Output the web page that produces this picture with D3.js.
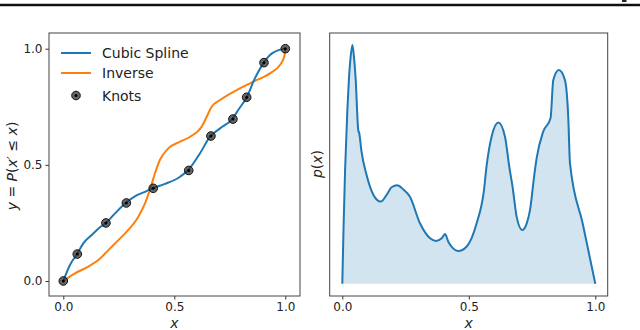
<!DOCTYPE html>
<html>
<head>
<meta charset="utf-8">
<script src="https://cdn.jsdelivr.net/npm/d3@7"></script>
<style>
  body { margin: 0; background: #fff; }
  svg { display: block; font-family: "DejaVu Sans", sans-serif; }
</style>
</head>
<body>
<svg id="chart" width="640" height="330"></svg>
<script>
// knots on the CDF
const knotX = [0, 0.063, 0.192, 0.284, 0.405, 0.565, 0.665, 0.764, 0.826, 0.904, 1.0];
const knotY = [0, 0.116, 0.250, 0.336, 0.399, 0.476, 0.624, 0.697, 0.791, 0.940, 1.0];

// cubic spline CDF
const splineX = [0, 0.030, 0.063, 0.090, 0.128, 0.165, 0.192, 0.233, 0.282, 0.330, 0.368, 0.402, 0.458, 0.526, 0.563, 0.616, 0.661, 0.706, 0.761, 0.788, 0.826, 0.863, 0.904, 0.931, 0.969, 1.0];
const splineY = [0, 0.069, 0.118, 0.162, 0.198, 0.231, 0.250, 0.291, 0.337, 0.369, 0.384, 0.399, 0.418, 0.449, 0.478, 0.550, 0.621, 0.657, 0.697, 0.736, 0.791, 0.872, 0.941, 0.973, 0.994, 1.0];

// inverse curve
const inverseX = [0, 0.053, 0.113, 0.158, 0.203, 0.248, 0.293, 0.338, 0.368, 0.390, 0.413, 0.435, 0.473, 0.526, 0.571, 0.623, 0.646, 0.668, 0.706, 0.781, 0.856, 0.931, 0.976, 0.995, 1.0];
const inverseY = [0, 0.033, 0.062, 0.090, 0.133, 0.176, 0.220, 0.277, 0.334, 0.392, 0.464, 0.521, 0.571, 0.600, 0.621, 0.664, 0.707, 0.750, 0.779, 0.822, 0.858, 0.894, 0.930, 0.965, 1.0];

// density p(x), relative units (peak = 1)
const pdfX = [0, 0.005, 0.011, 0.020, 0.026, 0.033, 0.040, 0.046, 0.053, 0.063, 0.067, 0.076, 0.096, 0.123, 0.152, 0.175, 0.195, 0.217, 0.241, 0.267, 0.307, 0.347, 0.370, 0.393, 0.406, 0.419, 0.439, 0.458, 0.491, 0.531, 0.560, 0.570, 0.590, 0.617, 0.643, 0.660, 0.673, 0.689, 0.711, 0.729, 0.742, 0.758, 0.768, 0.794, 0.823, 0.834, 0.856, 0.880, 0.893, 0.900, 0.950, 1.0];
const pdfY = [0, 0.239, 0.476, 0.728, 0.853, 0.951, 1.0, 0.951, 0.853, 0.644, 0.630, 0.553, 0.455, 0.372, 0.344, 0.372, 0.404, 0.412, 0.395, 0.365, 0.253, 0.190, 0.179, 0.190, 0.208, 0.176, 0.147, 0.137, 0.155, 0.253, 0.392, 0.490, 0.616, 0.675, 0.616, 0.490, 0.406, 0.281, 0.225, 0.253, 0.309, 0.448, 0.525, 0.637, 0.693, 0.853, 0.895, 0.853, 0.700, 0.504, 0.253, 0];

const tickVals = [0, 0.5, 1.0];

const blue = '#1f77b4', orange = '#ff7f0e';
const svg = d3.select('#chart');

// top rule from the page
svg.append('line').attr('x1', 0).attr('x2', 640).attr('y1', 5).attr('y2', 5)
    .attr('stroke', '#111').attr('stroke-width', 2.6);
svg.append('rect').attr('x', 622).attr('y', 0).attr('width', 4.5).attr('height', 2).attr('fill', '#222');

function zip(xs, ys) { return xs.map((x, i) => [x, ys[i]]); }

function drawFrame(box, x, y, showY) {
    const fmt = d3.format('.1f');
    const gx = svg.append('g').attr('transform', `translate(0,${box.bottom})`)
        .call(d3.axisBottom(x).tickValues(tickVals).tickFormat(fmt).tickSize(3.5).tickPadding(3));
    gx.select('.domain').remove();
    gx.selectAll('text').attr('font-size', 12).attr('fill', '#222').attr('font-family', 'DejaVu Sans');
    gx.selectAll('line').attr('stroke', '#333');
    if (showY) {
        const gy = svg.append('g').attr('transform', `translate(${box.left},0)`)
            .call(d3.axisLeft(y).tickValues(tickVals).tickFormat(fmt).tickSize(3.5).tickPadding(3));
        gy.select('.domain').remove();
        gy.selectAll('text').attr('font-size', 12).attr('fill', '#222').attr('font-family', 'DejaVu Sans');
        gy.selectAll('line').attr('stroke', '#333');
    }
    svg.append('rect').attr('x', box.left).attr('y', box.top)
        .attr('width', box.right - box.left).attr('height', box.bottom - box.top)
        .attr('fill', 'none').attr('stroke', '#444').attr('stroke-width', 1);
    svg.append('text').attr('x', (box.left + box.right) / 2).attr('y', 328)
        .attr('text-anchor', 'middle').attr('font-size', 14).attr('font-style', 'italic')
        .attr('fill', '#222').text('x');
}

// ---- left panel: CDF ----
const boxL = {left: 49, right: 300, top: 33, bottom: 296};
const xL = d3.scaleLinear().domain([0, 1]).range([63.3, 285.3]);
const yL = d3.scaleLinear().domain([0, 1]).range([281, 48.7]);
drawFrame(boxL, xL, yL, true);

const lineL = d3.line().x(d => xL(d[0])).y(d => yL(d[1])).curve(d3.curveMonotoneX);
svg.append('path').datum(zip(inverseX, inverseY)).attr('d', lineL)
    .attr('fill', 'none').attr('stroke', orange).attr('stroke-width', 2);
svg.append('path').datum(zip(splineX, splineY)).attr('d', lineL)
    .attr('fill', 'none').attr('stroke', blue).attr('stroke-width', 2);

function knot(g, cx, cy) {
    g.append('circle').attr('cx', cx).attr('cy', cy).attr('r', 4.3)
        .attr('fill', '#333').attr('fill-opacity', 0.75).attr('stroke', '#111').attr('stroke-width', 1);
    g.append('circle').attr('cx', cx).attr('cy', cy).attr('r', 1.5).attr('fill', '#000');
}
const knotG = svg.append('g');
zip(knotX, knotY).forEach(d => knot(knotG, xL(d[0]), yL(d[1])));

// legend
const leg = svg.append('g').attr('font-size', 14).attr('fill', '#222');
[['Cubic Spline', blue, 53], ['Inverse', orange, 73]].forEach(([label, c, yy]) => {
    leg.append('line').attr('x1', 61).attr('x2', 91).attr('y1', yy).attr('y2', yy)
        .attr('stroke', c).attr('stroke-width', 2);
    leg.append('text').attr('x', 102).attr('y', yy + 5).text(label);
});
knot(leg, 76, 95.5);
leg.append('text').attr('x', 102).attr('y', 100.5).text('Knots');

// y label
const yl = svg.append('text').attr('transform', 'translate(17,166) rotate(-90)')
    .attr('text-anchor', 'middle').attr('font-size', 14).attr('fill', '#222');
yl.append('tspan').attr('font-style', 'italic').text('y');
yl.append('tspan').text(' = ');
yl.append('tspan').attr('font-style', 'italic').text('P');
yl.append('tspan').text('(');
yl.append('tspan').attr('font-style', 'italic').text('x');
yl.append('tspan').text('′ ≤ ');
yl.append('tspan').attr('font-style', 'italic').text('x');
yl.append('tspan').text(')');

// ---- right panel: density ----
const boxR = {left: 329.7, right: 607.7, top: 33, bottom: 296};
const xR = d3.scaleLinear().domain([0, 1]).range([342.3, 595.3]);
const yR = d3.scaleLinear().domain([0, 1]).range([283.7, 45]);
drawFrame(boxR, xR, yR, false);

const pdf = zip(pdfX, pdfY);
svg.append('path').datum(pdf)
    .attr('d', d3.area().x(d => xR(d[0])).y0(yR(0)).y1(d => yR(d[1])).curve(d3.curveMonotoneX))
    .attr('fill', blue).attr('fill-opacity', 0.2);
svg.append('path').datum(pdf)
    .attr('d', d3.line().x(d => xR(d[0])).y(d => yR(d[1])).curve(d3.curveMonotoneX))
    .attr('fill', 'none').attr('stroke', blue).attr('stroke-width', 2);

const pl = svg.append('text').attr('transform', 'translate(322,164) rotate(-90)')
    .attr('text-anchor', 'middle').attr('font-size', 14).attr('fill', '#222');
pl.append('tspan').attr('font-style', 'italic').text('p');
pl.append('tspan').text('(');
pl.append('tspan').attr('font-style', 'italic').text('x');
pl.append('tspan').text(')');
</script>
</body>
</html>
